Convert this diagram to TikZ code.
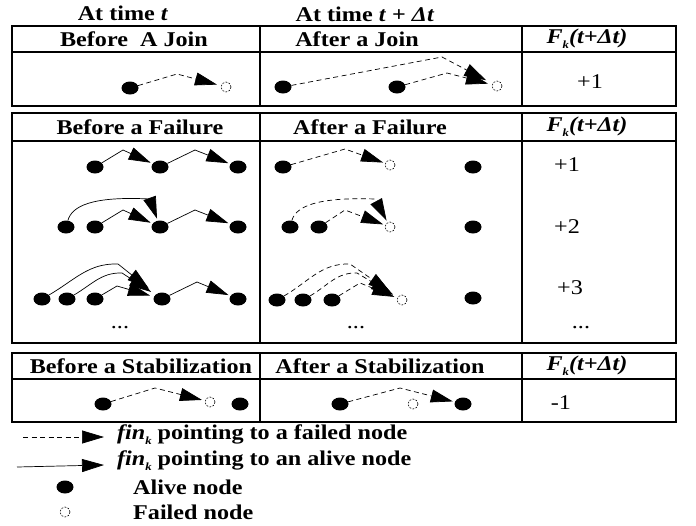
\documentclass[tikz,border=0pt]{standalone}
\usepackage{fontspec}
\setmainfont{Liberation Serif}[FakeStretch=1.15]
\usetikzlibrary{arrows.meta,shapes.geometric}

\newcommand{\subk}{\lower5pt\hbox{\fontsize{11}{11}\selectfont\bfseries\itshape k}}

\begin{document}
\begin{tikzpicture}[x=1pt,y=-1pt,
		alive/.style={ellipse,fill=black,inner sep=0pt,minimum width=17pt,minimum height=13pt},
		dead/.style={circle,draw=black,line width=0.6pt,dash pattern=on 1.8pt off 1.4pt,inner sep=0pt,minimum size=10pt},
		fin/.style={line width=0.7pt,-{Triangle[length=22pt,width=13pt]},shorten >=2pt},
		findead/.style={fin,dash pattern=on 5pt off 3.5pt},
		tbl/.style={line width=1.4pt},
		hd/.style={font=\fontsize{21}{25}\selectfont\bfseries,inner sep=0pt},
		val/.style={font=\fontsize{21}{25}\selectfont,inner sep=0pt}]
	\useasboundingbox (0,0) rectangle (696,525);
	% time labels
	\path 	(123,13) node (tnow) [hd] {At time \textit{t}}
	        (365,14) node (tlater) [hd] {At time \textit{t} + \textit{Δt}};
	% the three tables
	\draw [tbl] (12,26) rectangle (676,106) (12,52) -- (676,52) (260,26) -- (260,106) (522,26) -- (522,106);
	\draw [tbl] (12,113) rectangle (676,343) (12,141) -- (676,141) (260,113) -- (260,343) (522,113) -- (522,343);
	\draw [tbl] (12,353) rectangle (676,422) (12,379) -- (676,379) (260,353) -- (260,422) (522,353) -- (522,422);
	\path 	(134,39) node (hjb) [hd] {Before\ \ A Join}
	        (357,39) node (hja) [hd] {After a Join}
	        (587,39) node (hjf) [hd] {\itshape F\subk(t+Δt)}
	        (140,127) node (hfb) [hd] {Before a Failure}
	        (370,127) node (hfa) [hd] {After a Failure}
	        (587,127) node (hff) [hd] {\itshape F\subk(t+Δt)}
	        (141,366) node (hsb) [hd] {Before a Stabilization}
	        (380,366) node (hsa) [hd] {After a Stabilization}
	        (587,366) node (hsf) [hd] {\itshape F\subk(t+Δt)};
	\path 	(590,82) node (vj) [val] {+1}
	        (567,165) node (vf1) [val] {+1}
	        (567,227) node (vf2) [val] {+2}
	        (570,288) node (vf3) [val] {+3}
	        (561,403) node (vs) [val] {-1}
	        (120,328) node (dots1) [val] {...}
	        (356,328) node (dots2) [val] {...}
	        (581,328) node (dots3) [val] {...};
	% join
	\path 	(130,88) node (jb1) [alive] {}
	        (226,87) node (jbx) [dead] {}
	        (283,87) node (ja1) [alive] {}
	        (397,87) node (ja2) [alive] {}
	        (497,86) node (jax) [dead] {};
	\coordinate (pj0) at (177,74);
	\coordinate (pj1) at (442,57);
	\coordinate (pj2) at (447,73);
	\draw [findead,shorten >=4pt] (jb1) -- (pj0) -- (jbx);
	\draw [findead,shorten >=7pt] (ja1) -- (pj1) -- (jax);
	\draw [findead,shorten >=4pt] (ja2) -- (pj2) -- (jax);
	% failure, first row
	\path 	(95,167) node (f11) [alive] {}
	        (160,167) node (f12) [alive] {}
	        (238,167) node (f13) [alive] {}
	        (283,167) node (g11) [alive] {}
	        (390,165) node (g1x) [dead] {}
	        (473,167) node (g12) [alive] {};
	\coordinate (p11) at (123,150);
	\coordinate (p12) at (195,150);
	\coordinate (r11) at (345,149);
	\draw [fin] (f11) -- (p11) -- (f12);
	\draw [fin] (f12) -- (p12) -- (f13);
	\draw [findead] (g11) -- (r11) -- (g1x);
	% failure, second row
	\path 	(66,227) node (f21) [alive] {}
	        (95,227) node (f22) [alive] {}
	        (160,227) node (f23) [alive] {}
	        (238,227) node (f24) [alive] {}
	        (290,227) node (g21) [alive] {}
	        (319,227) node (g22) [alive] {}
	        (390,227) node (g2x) [dead] {}
	        (473,227) node (g23) [alive] {};
	\coordinate (p21) at (150,199);
	\coordinate (p22) at (123,210);
	\coordinate (p23) at (195,210);
	\coordinate (r21) at (375,199);
	\coordinate (r22) at (345,210);
	\draw [fin] (f21) .. controls (72,206) and (92,196) .. (p21) -- (f23);
	\draw [fin] (f22) -- (p22) -- (f23);
	\draw [fin] (f23) -- (p23) -- (f24);
	\draw [findead] (g21) .. controls (296,206) and (318,197) .. (r21) -- (g2x);
	\draw [findead] (g22) -- (r22) -- (g2x);
	% failure, third row
	\path 	(42,299) node (f31) [alive] {}
	        (67,299) node (f32) [alive] {}
	        (95,299) node (f33) [alive] {}
	        (162,299) node (f34) [alive] {}
	        (238,299) node (f35) [alive] {}
	        (277,300) node (g31) [alive] {}
	        (303,300) node (g32) [alive] {}
	        (332,300) node (g33) [alive] {}
	        (402,300) node (g3x) [dead] {}
	        (473,298) node (g34) [alive] {};
	\coordinate (p31) at (118,264);
	\coordinate (p32) at (122,273);
	\coordinate (p33) at (117,286);
	\coordinate (p34) at (197,282);
	\coordinate (r31) at (350,264);
	\coordinate (r32) at (357,273);
	\coordinate (r33) at (360,283);
	\draw [fin,shorten >=9pt] (f31) to[out=30,in=178] (p31) -- (f34);
	\draw [fin,shorten >=5pt] (f32) to[out=30,in=178] (p32) -- (f34);
	\draw [fin,shorten >=4pt] (f33) -- (p33) -- (f34);
	\draw [fin] (f34) -- (p34) -- (f35);
	\draw [findead,shorten >=9pt] (g31) to[out=30,in=178] (r31) -- (g3x);
	\draw [findead,shorten >=5pt] (g32) to[out=30,in=178] (r32) -- (g3x);
	\draw [findead,shorten >=3pt] (g33) -- (r33) -- (g3x);
	% stabilization
	\path 	(103,404) node (s1) [alive] {}
	        (210,402) node (sx) [dead] {}
	        (240,404) node (s2) [alive] {}
	        (340,404) node (u1) [alive] {}
	        (413,404) node (ux) [dead] {}
	        (463,404) node (u2) [alive] {};
	\coordinate (ps) at (155,388);
	\coordinate (pu) at (400,388);
	\draw [findead,shorten >=3pt] (s1) -- (ps) -- (sx);
	\draw [findead] (u1) -- (pu) -- (u2);
	% legend
	\coordinate (l1a) at (23,437);
	\coordinate (l1b) at (104,437);
	\coordinate (l2a) at (17,467);
	\coordinate (l2b) at (104,465);
	\draw [findead,shorten >=0pt] (l1a) -- (l1b);
	\draw [fin,shorten >=0pt] (l2a) -- (l2b);
	\path 	(65,487) node (lal) [alive] {}
	        (65,512) node (lde) [dead] {};
	\path 	(117,435) node (t1) [hd,anchor=west] {\textit{fin}\subk{} pointing to a failed node}
	        (117,461) node (t2) [hd,anchor=west] {\textit{fin}\subk{} pointing to an alive node}
	        (133,487) node (t3) [hd,anchor=west] {Alive node}
	        (133,512) node (t4) [hd,anchor=west] {Failed node};
\end{tikzpicture}
\end{document}
